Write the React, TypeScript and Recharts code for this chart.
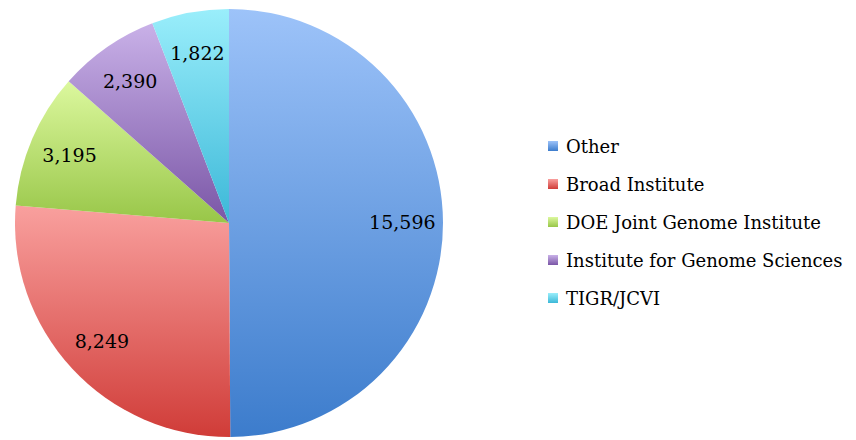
import { PieChart, Pie, Cell, Legend } from "recharts";

const categories = [
  "Other",
  "Broad Institute",
  "DOE Joint Genome Institute",
  "Institute for Genome Sciences",
  "TIGR/JCVI",
];
const values = [15596, 8249, 3195, 2390, 1822];

// top / bottom colour of each slice gradient
const topColors = ["#9dc3f9", "#f9a09e", "#dcf89e", "#c9b1e8", "#9aeefb"];
const bottomColors = ["#3c7ccc", "#d03c38", "#98c648", "#7a56a6", "#3cb8d8"];

const data = categories.map((name, i) => ({ name, value: values[i] }));

const FONT = "'DejaVu Serif', serif";
const RAD = Math.PI / 180;

const renderLabel = (props: any) => {
  const { cx, cy, midAngle, outerRadius, value } = props;
  const r = outerRadius * 0.81;
  const x = cx + r * Math.cos(-midAngle * RAD);
  const y = cy + r * Math.sin(-midAngle * RAD);
  return (
    <text
      x={x}
      y={y}
      textAnchor="middle"
      dominantBaseline="central"
      fill="#000"
      fontFamily={FONT}
      fontSize={19}
    >
      {value.toLocaleString("en-US")}
    </text>
  );
};

const renderLegend = () => (
  <div style={{ fontFamily: FONT, fontSize: 18, color: "#000" }}>
    {categories.map((c, i) => (
      <div
        key={c}
        style={{ display: "flex", alignItems: "center", height: 38 }}
      >
        <span
          style={{
            display: "inline-block",
            width: 10,
            height: 10,
            marginRight: 8,
            background: `linear-gradient(${topColors[i]}, ${bottomColors[i]})`,
          }}
        />
        {c}
      </div>
    ))}
  </div>
);

export default function App() {
  return (
    <div style={{ position: "absolute", left: 0, top: 0, background: "#fff" }}>
      <PieChart
        width={856}
        height={440}
        margin={{ top: 0, right: 0, bottom: 0, left: 0 }}
      >
        <defs>
          {categories.map((c, i) => (
            <linearGradient key={c} id={`grad-${i}`} x1="0" y1="0" x2="0" y2="1">
              <stop offset="0%" stopColor={topColors[i]} />
              <stop offset="100%" stopColor={bottomColors[i]} />
            </linearGradient>
          ))}
        </defs>
        <Pie
          data={data}
          dataKey="value"
          nameKey="name"
          cx={229}
          cy={223}
          outerRadius={214}
          startAngle={90}
          endAngle={-270}
          stroke="none"
          label={renderLabel}
          labelLine={false}
          isAnimationActive={false}
        >
          {data.map((entry, index) => (
            <Cell key={`cell-${index}`} fill={`url(#grad-${index})`} />
          ))}
        </Pie>
        <Legend
          layout="vertical"
          align="right"
          verticalAlign="top"
          content={renderLegend}
          wrapperStyle={{ left: 548, top: 127, width: 300 }}
        />
      </PieChart>
    </div>
  );
}
